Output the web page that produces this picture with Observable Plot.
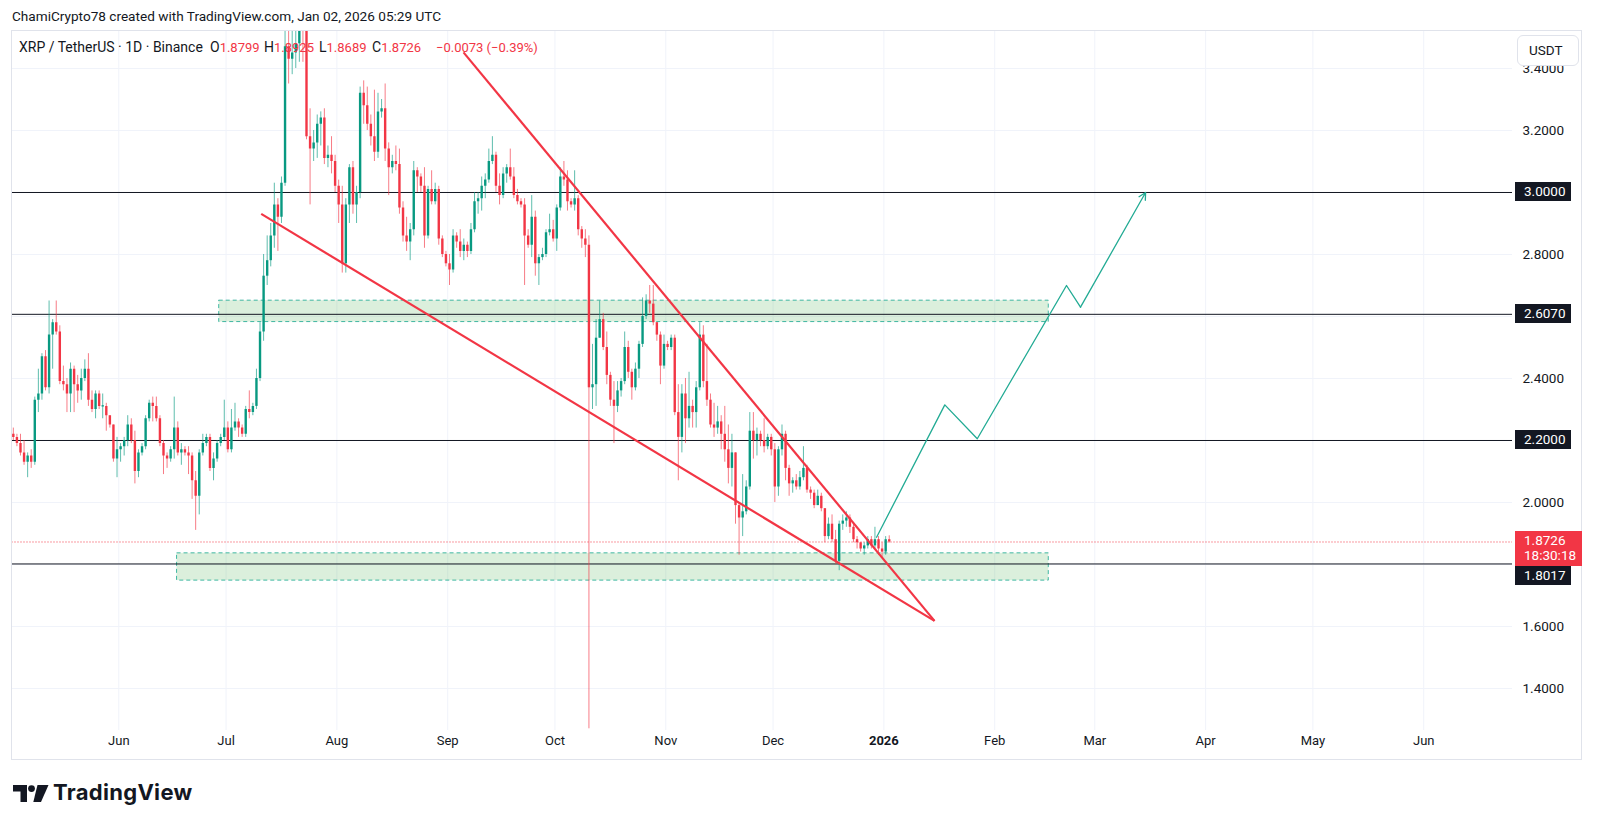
<!DOCTYPE html>
<html>
<head>
<meta charset="utf-8">
<script src="https://cdn.jsdelivr.net/npm/d3@7"></script>
<script src="https://cdn.jsdelivr.net/npm/@observablehq/plot@0.6"></script>
<style>
html,body{margin:0;padding:0;background:#fff;}
#wrap{position:relative;width:1600px;height:828px;overflow:hidden;font-family:Roboto,"Noto Sans",sans-serif;color:#131722;}
#chart{position:absolute;left:0;top:0;}
.ov{position:absolute;white-space:nowrap;font-size:14px;line-height:16px;}
.hdr{font-size:13.6px;}
.red{color:#f23645;}
.val{font-size:13px;}
.frame{position:absolute;left:11px;top:30px;width:1571px;height:730px;border:1px solid #e0e3eb;box-sizing:border-box;pointer-events:none;}
.tag{position:absolute;left:1515px;width:56px;height:19px;line-height:19px;padding-left:9px;box-sizing:border-box;background:#131722;color:#fff;font-size:13.5px;}
.tagred{position:absolute;left:1515px;width:67px;height:35px;padding-left:9px;padding-top:2px;box-sizing:border-box;background:#f23645;color:#fff;font-size:13.5px;line-height:15.5px;}
.btn{position:absolute;left:1517px;top:35px;width:62px;height:31px;border:1px solid #e0e3eb;border-radius:6px;background:#fff;box-sizing:border-box;font-size:13.5px;line-height:29px;padding-left:11px;}
.logo{position:absolute;left:12px;top:781px;}
.logotext{position:absolute;left:53px;top:779px;font-family:Inter,Roboto,sans-serif;font-weight:700;font-size:22px;line-height:26px;letter-spacing:0.3px;color:#131722;}
</style>
</head>
<body>
<div id="wrap"></div>
<script>
// ---------- data (daily candles, XRP / TetherUS, Binance, from 2025-05-02) ----------
const startDate = "2025-05-02";
const firstOpen = 2.22;
const closes = [
 2.21,2.19,2.16,2.13,2.15,2.13,2.33,2.35,2.47,2.37,
 2.54,2.58,2.55,2.39,2.38,2.35,2.43,2.38,2.36,2.40,
 2.43,2.33,2.30,2.35,2.31,2.31,2.28,2.25,2.14,2.17,
 2.18,2.20,2.25,2.20,2.10,2.16,2.18,2.27,2.32,2.31,
 2.27,2.19,2.15,2.14,2.17,2.24,2.16,2.17,2.16,2.15,
 2.07,2.02,2.16,2.19,2.21,2.11,2.14,2.19,2.21,2.24,
 2.17,2.24,2.26,2.24,2.22,2.30,2.29,2.31,2.40,2.55,
 2.73,2.78,2.86,2.96,2.92,3.03,3.47,3.43,3.45,3.48,
 3.56,3.52,3.18,3.14,3.16,3.22,3.24,3.11,3.12,3.10,
 3.02,2.96,2.77,2.96,3.08,2.96,3.00,3.32,3.28,3.22,
 3.18,3.13,3.26,3.27,3.14,3.08,3.10,3.09,2.95,2.86,
 2.84,2.88,3.07,3.05,3.02,2.86,3.01,2.97,3.01,2.85,
 2.80,2.77,2.75,2.86,2.84,2.81,2.83,2.81,2.88,2.97,
 2.98,3.02,3.04,3.10,3.12,3.02,2.99,3.06,3.08,3.05,
 2.99,2.97,2.96,2.86,2.83,2.92,2.77,2.79,2.80,2.87,
 2.88,2.85,2.95,3.05,3.04,2.97,2.96,2.98,2.88,2.85,
 2.83,2.37,2.38,2.53,2.59,2.50,2.41,2.33,2.31,2.36,
 2.39,2.50,2.42,2.37,2.43,2.51,2.60,2.65,2.64,2.58,
 2.54,2.44,2.51,2.50,2.53,2.29,2.21,2.35,2.27,2.31,
 2.29,2.37,2.54,2.39,2.33,2.25,2.24,2.26,2.22,2.17,
 2.11,2.16,1.99,1.95,1.97,2.05,2.23,2.20,2.22,2.20,
 2.18,2.21,2.17,2.05,2.17,2.22,2.11,2.06,2.07,2.05,
 2.08,2.11,2.04,2.03,1.99,2.02,1.98,1.89,1.93,1.88,
 1.81,1.93,1.94,1.95,1.92,1.88,1.87,1.85,1.86,1.88,
 1.86,1.88,1.85,1.84,1.8799,1.8726
];
const highs = [
 2.24,2.22,2.22,2.20,2.16,2.17,2.34,2.43,2.48,2.49,
 2.65,2.59,2.65,2.57,2.44,2.40,2.45,2.44,2.41,2.43,
 2.46,2.48,2.36,2.36,2.36,2.35,2.32,2.28,2.25,2.21,
 2.19,2.21,2.28,2.27,2.23,2.17,2.19,2.28,2.33,2.34,
 2.34,2.28,2.20,2.16,2.18,2.34,2.26,2.19,2.18,2.18,
 2.16,2.10,2.17,2.22,2.22,2.22,2.16,2.20,2.22,2.33,
 2.26,2.30,2.32,2.27,2.25,2.31,2.36,2.32,2.43,2.58,
 2.80,2.86,2.90,3.03,2.98,3.05,3.52,3.66,3.52,3.56,
 3.62,3.60,3.55,3.27,3.20,3.25,3.26,3.27,3.15,3.18,
 3.12,3.04,3.02,2.98,3.09,3.10,3.02,3.34,3.36,3.34,
 3.25,3.33,3.32,3.30,3.35,3.16,3.12,3.15,3.14,2.97,
 2.92,2.90,3.10,3.08,3.06,3.08,3.02,3.07,3.03,3.02,
 2.86,2.81,2.80,2.88,2.87,2.88,2.85,2.84,2.90,3.00,
 3.00,3.05,3.06,3.14,3.18,3.13,3.06,3.08,3.09,3.14,
 3.08,3.01,2.98,2.98,2.88,2.99,2.94,2.80,2.82,2.88,
 2.93,2.91,2.96,3.08,3.10,3.07,2.98,3.07,2.99,2.89,
 2.88,2.86,2.51,2.59,2.65,2.61,2.55,2.42,2.39,2.39,
 2.40,2.55,2.52,2.43,2.45,2.52,2.66,2.67,2.70,2.70,
 2.58,2.55,2.54,2.52,2.54,2.54,2.38,2.38,2.40,2.42,
 2.33,2.39,2.58,2.57,2.51,2.35,2.32,2.31,2.28,2.31,
 2.25,2.22,2.16,2.00,2.09,2.07,2.29,2.29,2.24,2.23,
 2.27,2.22,2.22,2.19,2.18,2.25,2.23,2.12,2.08,2.09,
 2.10,2.18,2.12,2.05,2.04,2.04,2.03,1.98,1.95,1.96,
 1.91,1.94,1.96,1.97,1.96,1.93,1.89,1.87,1.87,1.89,
 1.89,1.92,1.89,1.87,1.89,1.8925
];
const lows = [
 2.20,2.18,2.15,2.12,2.08,2.11,2.12,2.29,2.33,2.36,
 2.35,2.43,2.54,2.38,2.36,2.29,2.29,2.29,2.32,2.33,
 2.39,2.31,2.29,2.27,2.30,2.27,2.23,2.24,2.13,2.08,
 2.13,2.15,2.18,2.19,2.06,2.08,2.15,2.17,2.26,2.26,
 2.26,2.18,2.09,2.11,2.13,2.14,2.15,2.12,2.15,2.09,
 2.01,1.91,1.96,2.15,2.18,2.10,2.07,2.13,2.18,2.20,
 2.16,2.16,2.23,2.21,2.21,2.21,2.27,2.28,2.30,2.39,
 2.52,2.70,2.76,2.82,2.81,2.90,3.02,3.35,3.38,3.40,
 3.42,3.42,3.17,2.96,3.10,3.11,3.15,3.09,3.08,3.06,
 3.00,2.90,2.74,2.74,2.90,2.93,2.90,2.98,3.22,3.20,
 3.15,3.10,3.11,3.24,3.10,2.99,3.06,3.07,2.93,2.84,
 2.81,2.78,2.86,3.00,3.00,2.82,2.85,2.96,2.96,2.83,
 2.79,2.76,2.70,2.74,2.82,2.79,2.78,2.79,2.80,2.87,
 2.93,2.94,2.98,3.03,3.09,3.00,2.96,2.98,3.03,3.04,
 2.98,2.96,2.95,2.70,2.82,2.79,2.73,2.70,2.78,2.79,
 2.86,2.84,2.81,2.94,3.02,2.94,2.95,2.94,2.86,2.82,
 2.79,1.27,2.30,2.31,2.53,2.49,2.38,2.31,2.19,2.29,
 2.34,2.38,2.40,2.33,2.36,2.40,2.50,2.59,2.61,2.57,
 2.52,2.38,2.43,2.49,2.49,2.28,2.07,2.16,2.19,2.24,
 2.24,2.24,2.36,2.37,2.31,2.24,2.21,2.22,2.17,2.13,
 2.06,2.05,1.93,1.83,1.89,1.96,2.04,2.14,2.15,2.18,
 2.16,2.17,2.15,2.00,2.02,2.15,2.07,2.02,2.03,2.04,
 2.04,2.07,2.03,2.01,1.98,1.99,1.97,1.87,1.88,1.87,
 1.80,1.78,1.91,1.92,1.90,1.87,1.85,1.84,1.83,1.85,
 1.85,1.85,1.83,1.82,1.83,1.8689
];

// horizontal levels and price labels
const levelPrices = [3.0, 2.607, 2.2, 1.8017];
const levelLabels = ["3.0000", "2.6070", "2.2000", "1.8017"];
const lastPrice = 1.8726;
const lastLabel = "1.8726";
const countdown = "18:30:18";
const tickPrices = [1.4, 1.6, 2.0, 2.4, 2.8, 3.2, 3.4];
const gridPrices = [1.4, 1.6, 1.8, 2.0, 2.2, 2.4, 2.6, 2.8, 3.0, 3.2, 3.4];

// time axis
const monthStarts = ["2025-06-01","2025-07-01","2025-08-01","2025-09-01","2025-10-01","2025-11-01","2025-12-01","2026-01-01","2026-02-01","2026-03-01","2026-04-01","2026-05-01","2026-06-01"];
const monthNames = ["Jun","Jul","Aug","Sep","Oct","Nov","Dec","2026","Feb","Mar","Apr","May","Jun"];

// green support / resistance zones
const zoneStart = ["2025-06-29T02:00Z", "2025-06-17T07:00Z"];
const zoneEnd = ["2026-02-16T03:00Z", "2026-02-16T03:00Z"];
const zoneTop = [2.651, 1.836];
const zoneBottom = [2.582, 1.748];

// falling wedge trend lines
const trendFrom = ["2025-09-05T10:00Z", "2025-07-10T20:00Z"];
const trendFromPrice = [3.452, 2.931];
const trendTo = ["2026-01-15T04:00Z", "2026-01-15T04:00Z"];
const trendToPrice = [1.618, 1.618];

// projected path
const pathDates = ["2025-12-29T23:00Z","2026-01-18T01:00Z","2026-01-27T03:00Z","2026-02-21T02:00Z","2026-02-25T00:00Z","2026-03-15T05:00Z"];
const pathPrices = [1.888, 2.315, 2.2055, 2.700, 2.630, 3.0];

// legend values
const ohlcKeys = ["O", "H", "L", "C"];
const ohlcValues = ["1.8799", "1.8925", "1.8689", "1.8726"];
const changeText = "−0.0073 (−0.39%)";

// ---------- build tables ----------
const DAY = 864e5;
const t0 = new Date(startDate + "T12:00:00Z").getTime();
const GREEN = "#089981", RED = "#f23645";
const candles = closes.map((c, i) => {
  const o = i === 0 ? firstOpen : closes[i - 1];
  const up = c >= o;
  let lo = Math.min(o, c), hi = Math.max(o, c);
  if (hi - lo < 0.004) { const m = (hi + lo) / 2; lo = m - 0.002; hi = m + 0.002; }
  return {date: new Date(t0 + i * DAY), open: o, close: c, high: highs[i], low: lows[i], bodyLo: lo, bodyHi: hi, color: up ? GREEN : RED};
});
const zones = zoneStart.map((s, i) => ({x1: new Date(s), x2: new Date(zoneEnd[i]), y1: zoneBottom[i], y2: zoneTop[i]}));
const trends = trendFrom.map((s, i) => ({x1: new Date(s), y1: trendFromPrice[i], x2: new Date(trendTo[i]), y2: trendToPrice[i]}));
const path = pathDates.map((d, i) => ({date: new Date(d), price: pathPrices[i]}));
const pathHead = [{x1: path[path.length - 2].date, y1: path[path.length - 2].price, x2: path[path.length - 1].date, y2: path[path.length - 1].price}];
const months = monthStarts.map((d, i) => ({date: new Date(d + "T00:00:00Z"), label: monthNames[i], bold: /^\d{4}$/.test(monthNames[i])}));

const plot = Plot.plot({
  width: 1600, height: 828,
  marginLeft: 11.5, marginRight: 88, marginTop: 30.6, marginBottom: 98,
  x: {type: "utc", domain: [new Date("2025-05-02T03:00Z"), new Date("2026-06-25T20:00Z")], axis: null},
  y: {domain: [1.2645, 3.5206]},
  style: {fontFamily: "Roboto, 'Noto Sans', sans-serif", fontSize: "13px", background: "transparent", color: "#131722", overflow: "visible"},
  marks: [
    Plot.ruleY(gridPrices, {stroke: "#f0f3fa", strokeWidth: 1}),
    Plot.ruleX(months, {x: "date", stroke: "#f0f3fa", strokeWidth: 1}),
    Plot.rect(zones, {x1: "x1", x2: "x2", y1: "y1", y2: "y2", fill: "#4caf50", fillOpacity: 0.2, stroke: "#22ab94", strokeOpacity: 0.85, strokeDasharray: "4,3", strokeWidth: 1}),
    Plot.ruleY(levelPrices, {stroke: "#131722", strokeWidth: 1}),
    Plot.ruleY([lastPrice], {stroke: RED, strokeDasharray: "1,2", strokeWidth: 1}),
    Plot.ruleX(candles, {x: "date", y1: "low", y2: "high", stroke: "color", strokeOpacity: 0.65, strokeWidth: 1, clip: true}),
    Plot.ruleX(candles, {x: "date", y1: "bodyLo", y2: "bodyHi", stroke: "color", strokeWidth: 2.4, clip: true}),
    Plot.link(trends, {x1: "x1", y1: "y1", x2: "x2", y2: "y2", stroke: RED, strokeWidth: 2.2, clip: true}),
    Plot.line(path.slice(0, -1), {x: "date", y: "price", stroke: "#22ab94", strokeWidth: 1.3}),
    Plot.arrow(pathHead, {x1: "x1", y1: "y1", x2: "x2", y2: "y2", stroke: "#22ab94", strokeWidth: 1.3, headLength: 9, headAngle: 55}),
    Plot.axisY({anchor: "right", ticks: tickPrices, tickFormat: d3.format(".4f"), tickSize: 0, tickPadding: 10, fontSize: 13.5, color: "#131722", label: null}),
    Plot.text(months.filter(m => !m.bold), {x: "date", text: "label", frameAnchor: "bottom", dy: 14, fill: "#131722", fontSize: 13}),
    Plot.text(months.filter(m => m.bold), {x: "date", text: "label", frameAnchor: "bottom", dy: 14, fill: "#131722", fontSize: 13, fontWeight: "bold"})
  ]
});
plot.id = "chart";
const wrap = document.getElementById("wrap");
wrap.appendChild(plot);

// ---------- overlays (positions from the plot's own y scale) ----------
const ys = plot.scale("y");
function add(html, cls, style) {
  const d = document.createElement("div");
  d.className = cls; d.innerHTML = html;
  Object.assign(d.style, style || {});
  wrap.appendChild(d);
  return d;
}
add("", "frame");
add("ChamiCrypto78 created with TradingView.com, Jan 02, 2026 05:29 UTC", "ov hdr", {left: "12px", top: "8px"});
add("XRP / TetherUS · 1D · Binance", "ov", {left: "19px", top: "39px"});
const legendLeft = [210, 264, 319, 372];
ohlcKeys.forEach((k, i) => add(k + '<span class="red val">' + ohlcValues[i] + '</span>', "ov", {left: legendLeft[i] + "px", top: "39px"}));
add('<span class="red val">' + changeText + '</span>', "ov", {left: "436px", top: "39px"});

const redTop = ys.apply(lastPrice) - 10.5;
add(lastLabel + "<br>" + countdown, "tagred", {top: redTop + "px"});
levelPrices.forEach((p, i) => {
  let top = ys.apply(p) - 9.5;
  if (Math.abs(p - lastPrice) < 0.1 && p < lastPrice) top = Math.max(top, redTop + 35.5);
  add(levelLabels[i], "tag", {top: top + "px"});
});
add("USDT", "btn");

add('<svg width="40" height="22" viewBox="0 0 40 22"><path d="M1 4h14v17h-6.5v-10.5H1z" fill="#131722"/><circle cx="19.5" cy="7.6" r="3.4" fill="#131722"/><path d="M25.5 4h11l-7.5 17h-7.7z" fill="#131722"/></svg>', "logo");
add("TradingView", "logotext");
</script>
</body>
</html>
